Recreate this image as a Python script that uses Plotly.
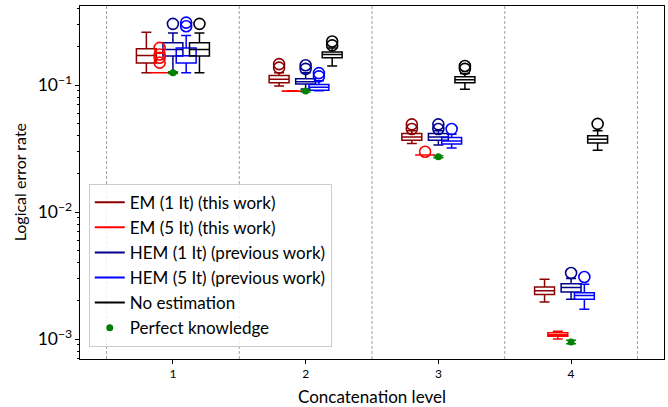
import plotly.graph_objects as go

levels = [1, 2, 3, 4]
separators = [0.5, 1.5, 2.5, 3.5, 4.5]

names = ["EM (1 It) (this work)", "EM (5 It) (this work)",
         "HEM (1 It) (previous work)", "HEM (5 It) (previous work)",
         "No estimation"]
colors = ["#8b0000", "#ff0000", "#00008b", "#0000ff", "#000000"]
offsets = [-0.2, -0.1, 0.0, 0.1, 0.2]

# box statistics per method, one entry per concatenation level
em1_lo = [0.125, 0.098, 0.0347, 0.00196]
em1_q1 = [0.149, 0.104, 0.0368, 0.00224]
em1_med = [0.171, 0.111, 0.039, 0.0024]
em1_q3 = [0.193, 0.119, 0.0415, 0.00257]
em1_hi = [0.26, 0.125, 0.0436, 0.00296]
em1_out = [[], [0.137, 0.146], [0.045, 0.049], []]

em5_lo = [0.125, 0.0893, 0.0281, 0.00100]
em5_q1 = [0.125, 0.0895, 0.0281, 0.00105]
em5_med = [0.125, 0.0897, 0.0281, 0.00108]
em5_q3 = [0.125, 0.0899, 0.0281, 0.00112]
em5_hi = [0.125, 0.0901, 0.0281, 0.00115]
em5_out = [[0.150, 0.164, 0.174, 0.196], [], [0.0298], []]

hem1_lo = [0.125, 0.093, 0.0337, 0.00206]
hem1_q1 = [0.169, 0.102, 0.0368, 0.00235]
hem1_med = [0.19, 0.106, 0.039, 0.00255]
hem1_q3 = [0.215, 0.112, 0.0415, 0.00273]
hem1_hi = [0.257, 0.125, 0.0436, 0.0030]
hem1_out = [[0.303], [0.134, 0.143], [0.045, 0.049], [0.00331]]

hem5_lo = [0.125, 0.090, 0.0319, 0.00172]
hem5_q1 = [0.149, 0.091, 0.0343, 0.00206]
hem5_med = [0.17, 0.096, 0.0362, 0.0022]
hem5_q3 = [0.196, 0.101, 0.0387, 0.00232]
hem5_hi = [0.245, 0.108, 0.041, 0.0027]
hem5_out = [[0.29, 0.31], [0.117, 0.124], [0.045], [0.00308]]

noest_lo = [0.125, 0.141, 0.0925, 0.0307]
noest_q1 = [0.169, 0.164, 0.104, 0.0349]
noest_med = [0.19, 0.174, 0.11, 0.0374]
noest_q3 = [0.215, 0.182, 0.116, 0.0398]
noest_hi = [0.257, 0.196, 0.123, 0.0436]
noest_out = [[0.303], [0.205, 0.22], [0.134, 0.141], [0.0494]]

perfect = [0.125, 0.0897, 0.0272, 0.00095]
perfect_err = [0.002, 0.0015, 0.0005, 0.00003]

stats = [
    (em1_lo, em1_q1, em1_med, em1_q3, em1_hi, em1_out),
    (em5_lo, em5_q1, em5_med, em5_q3, em5_hi, em5_out),
    (hem1_lo, hem1_q1, hem1_med, hem1_q3, hem1_hi, hem1_out),
    (hem5_lo, hem5_q1, hem5_med, hem5_q3, hem5_hi, hem5_out),
    (noest_lo, noest_q1, noest_med, noest_q3, noest_hi, noest_out),
]

FONT = "Lato"
fig = go.Figure()

for name, col, off, (lo, q1, med, q3, hi, out) in zip(names, colors, offsets, stats):
    xs = [l + off for l in levels]
    fig.add_trace(go.Box(
        x=xs, q1=q1, median=med, q3=q3, lowerfence=lo, upperfence=hi,
        width=0.15, whiskerwidth=0.5, boxpoints=False,
        line=dict(color=col, width=1.5), fillcolor="rgba(0,0,0,0)",
        showlegend=False, hoverinfo="skip"))
    ox, oy = [], []
    for l, vals in zip(levels, out):
        for v in vals:
            ox.append(l + off)
            oy.append(v)
    fig.add_trace(go.Scatter(
        x=ox, y=oy, mode="markers", showlegend=False,
        marker=dict(symbol="circle-open", size=11, color=col, line=dict(width=1.6))))
    # legend entry
    fig.add_trace(go.Scatter(
        x=[None], y=[None], mode="lines", name=name,
        line=dict(color=col, width=2)))

fig.add_trace(go.Scatter(
    x=levels, y=perfect, mode="markers", name="Perfect knowledge",
    marker=dict(color="green", size=7),
    error_y=dict(type="data", array=perfect_err, color="green", thickness=1.5, width=5)))

for s in separators:
    fig.add_shape(type="line", x0=s, x1=s, y0=0, y1=1, xref="x", yref="paper",
                  line=dict(color="#a0a0a0", width=1, dash="3px,2px"), layer="below")

fig.add_annotation(text="Logical error rate", x=-0.103, y=0.5, xref="paper", yref="paper",
                   textangle=-90, showarrow=False, font=dict(size=16),
                   xanchor="center", yanchor="middle")

fig.update_layout(
    width=668, height=407,
    margin=dict(l=80, r=4, t=6, b=48),
    paper_bgcolor="white", plot_bgcolor="white",
    boxmode="overlay",
    font=dict(family=FONT, color="black"),
    legend=dict(x=0.015, y=0.035, xanchor="left", yanchor="bottom",
                bgcolor="rgba(255,255,255,0.85)", bordercolor="#cccccc", borderwidth=1,
                font=dict(family=FONT, size=17)),
)
fig.update_xaxes(
    range=[0.3, 4.7], tickvals=levels, ticktext=[str(l) for l in levels],
    ticks="outside", ticklen=4, tickcolor="black", tickfont=dict(size=12),
    showline=True, linecolor="black", linewidth=1, mirror=True, showgrid=False,
    zeroline=False, automargin=False,
    title=dict(text="Concatenation level", font=dict(size=17)))
fig.update_yaxes(
    type="log", range=[-3.157, -0.378], dtick=1, exponentformat="power",
    ticks="outside", ticklen=4, tickcolor="black", tickfont=dict(size=14),
    minor=dict(ticks="outside", ticklen=2, tickcolor="black", showgrid=False),
    showline=True, linecolor="black", linewidth=1, mirror=True, showgrid=False,
    zeroline=False, automargin=False)

fig.write_html("out.html", config={"displayModeBar": False},
               post_script="document.body.style.margin='0px';")
